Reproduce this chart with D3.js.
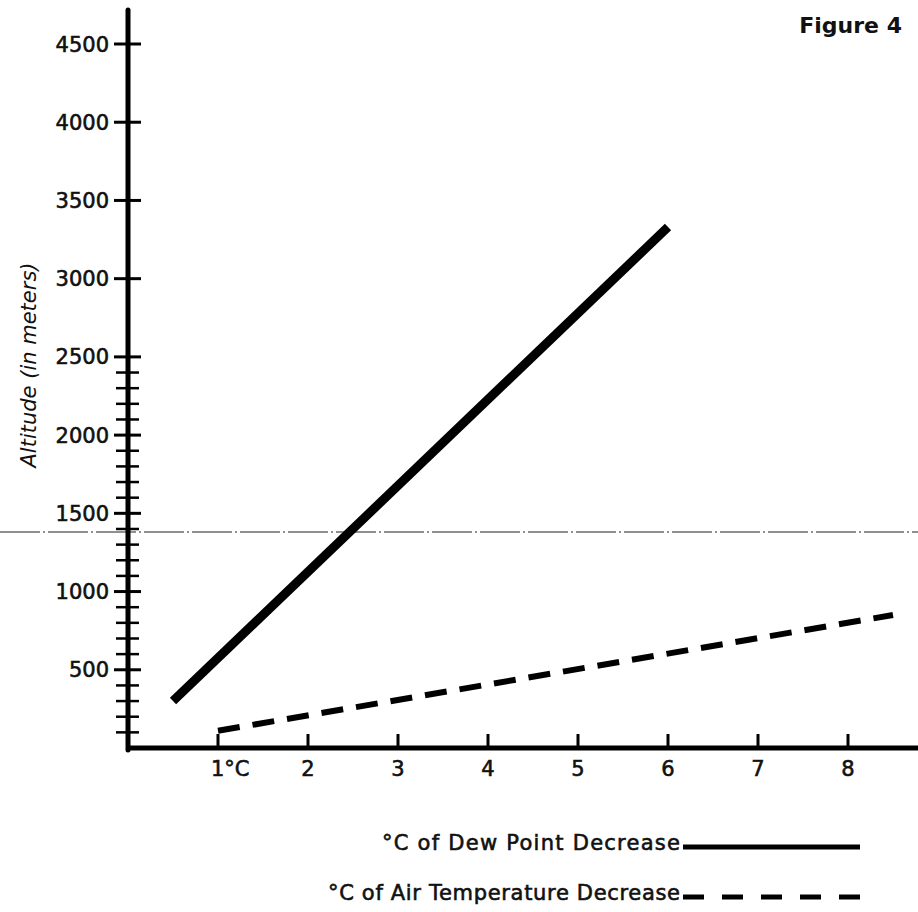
<!DOCTYPE html>
<html>
<head>
<meta charset="utf-8">
<script src="https://cdn.jsdelivr.net/npm/d3@7"></script>
<style>
  body { margin: 0; background: #fff; }
  svg { display: block; }
  text { font-family: "DejaVu Sans", sans-serif; fill: #111; }
  .heavy { stroke: #111; stroke-width: 0.6px; }
</style>
</head>
<body>
<svg id="chart"></svg>
<script>
var width = 918,
    height = 912;

// values
var dewPointDeg = [0.5, 6];
var dewPointAlt = [300, 3330];
var airTempDeg = [1, 8.5];
var airTempAlt = [110, 850];
var yMajorTicks = [500, 1000, 1500, 2000, 2500, 3000, 3500, 4000, 4500];
var yMinorTicks = d3.range(100, 2500, 100).filter(d => d % 500 !== 0);
var xTicks = [1, 2, 3, 4, 5, 6, 7, 8];
var xTickLabels = ["1°C", "2", "3", "4", "5", "6", "7", "8"];
var legendLabels = ["°C of Dew Point Decrease", "°C of Air Temperature Decrease"];

var svg = d3.select("#chart")
    .attr("width", width)
    .attr("height", height);

var x = d3.scaleLinear()
    .domain([0, 8])
    .range([128, 848]);

var y = d3.scaleLinear()
    .domain([0, 4500])
    .range([748, 44]);

// fold line across the scan
svg.append("line")
    .attr("x1", 0).attr("x2", width)
    .attr("y1", 532).attr("y2", 532)
    .attr("stroke", "#222")
    .attr("stroke-width", 1.2)
    .attr("stroke-dasharray", "40,3,2,3");

// y axis
var yAxis = svg.append("g");
yAxis.append("line")
    .attr("x1", x(0)).attr("x2", x(0))
    .attr("y1", 10).attr("y2", y(0) + 2)
    .attr("stroke", "#000")
    .attr("stroke-width", 5)
    .attr("stroke-linecap", "round");

yAxis.selectAll(".major")
    .data(yMajorTicks)
    .enter()
      .append("line")
      .attr("class", "major")
      .attr("x1", x(0) - 14).attr("x2", x(0) + 13)
      .attr("y1", d => y(d)).attr("y2", d => y(d))
      .attr("stroke", "#000")
      .attr("stroke-width", 3);

yAxis.selectAll(".minor")
    .data(yMinorTicks)
    .enter()
      .append("line")
      .attr("class", "minor")
      .attr("x1", x(0) - 12).attr("x2", x(0) + 11)
      .attr("y1", d => y(d)).attr("y2", d => y(d))
      .attr("stroke", "#000")
      .attr("stroke-width", 2.5);

yAxis.selectAll(".ylabel")
    .data(yMajorTicks)
    .enter()
      .append("text")
      .attr("class", "ylabel heavy")
      .attr("x", x(0) - 19)
      .attr("y", d => y(d))
      .attr("dy", "0.36em")
      .attr("text-anchor", "end")
      .style("font-size", "21px")
      .text(d => d);

// x axis
var xAxis = svg.append("g");
xAxis.append("line")
    .attr("x1", x(0) - 2).attr("x2", width)
    .attr("y1", y(0)).attr("y2", y(0))
    .attr("stroke", "#000")
    .attr("stroke-width", 5);

xAxis.selectAll(".xtick")
    .data(xTicks)
    .enter()
      .append("line")
      .attr("class", "xtick")
      .attr("x1", d => x(d)).attr("x2", d => x(d))
      .attr("y1", y(0)).attr("y2", y(0) - 14)
      .attr("stroke", "#000")
      .attr("stroke-width", 3);

xAxis.selectAll(".xlabel")
    .data(xTicks)
    .enter()
      .append("text")
      .attr("class", "xlabel heavy")
      .attr("x", (d, i) => i === 0 ? x(d) - 7 : x(d))
      .attr("y", y(0) + 28)
      .attr("text-anchor", (d, i) => i === 0 ? "start" : "middle")
      .style("font-size", "21px")
      .text((d, i) => xTickLabels[i]);

// axis title
svg.append("text")
    .attr("transform", "translate(36," + 365 + ") rotate(-90)")
    .attr("text-anchor", "middle")
    .style("font-size", "21px")
    .style("font-style", "italic")
    .text("Altitude (in meters)");

svg.append("text")
    .attr("x", 902)
    .attr("y", 33)
    .attr("text-anchor", "end")
    .style("font-size", "22px")
    .style("font-weight", "bold")
    .text("Figure 4");

// data lines
var line = d3.line()
    .x(d => x(d[0]))
    .y(d => y(d[1]));

svg.append("path")
    .datum(d3.zip(dewPointDeg, dewPointAlt))
    .attr("d", line)
    .attr("fill", "none")
    .attr("stroke", "#000")
    .attr("stroke-width", 9);

svg.append("path")
    .datum(d3.zip(airTempDeg, airTempAlt))
    .attr("d", line)
    .attr("fill", "none")
    .attr("stroke", "#000")
    .attr("stroke-width", 6)
    .attr("stroke-dasharray", "22,13");

// legend
var legend = svg.append("g");
var legendY = [850, 900];
var legendX = [382, 328];
var textEnd = 680;

legend.selectAll(".legtext")
    .data(legendLabels)
    .enter()
      .append("text")
      .attr("class", "legtext heavy")
      .attr("x", (d, i) => legendX[i])
      .attr("y", (d, i) => legendY[i])
      .attr("textLength", (d, i) => textEnd - legendX[i])
      .attr("lengthAdjust", "spacing")
      .style("font-size", "21px")
      .text(d => d);

legend.selectAll(".legline")
    .data(legendLabels)
    .enter()
      .append("line")
      .attr("class", "legline")
      .attr("x1", textEnd + 3).attr("x2", 860)
      .attr("y1", (d, i) => legendY[i] - 3).attr("y2", (d, i) => legendY[i] - 3)
      .attr("stroke", "#000")
      .attr("stroke-width", 5)
      .attr("stroke-dasharray", (d, i) => i === 0 ? null : "21,18");
</script>
</body>
</html>
